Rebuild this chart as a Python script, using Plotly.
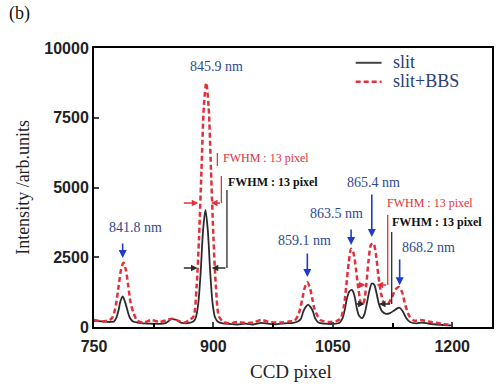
import plotly.graph_objects as go

# ---------------- data ----------------
slit_x = [750, 760, 770, 775, 778, 781, 783, 786, 789, 792, 795, 799, 805, 812, 820, 830, 840, 847, 853, 860, 870, 876,
          878, 881, 884, 887, 890, 893, 896, 899, 902, 906, 912, 920, 930, 940, 950, 960, 970, 980, 990, 1000, 1006,
          1010, 1013, 1016, 1019, 1022, 1025, 1028, 1032, 1040, 1050, 1058, 1062, 1065, 1068, 1071, 1074, 1077, 1080,
          1083, 1087, 1090, 1093, 1096, 1099, 1102, 1105, 1108, 1112, 1117, 1122, 1127, 1131, 1134, 1138, 1142, 1147,
          1155, 1162, 1170, 1180, 1190, 1200]
slit_y = [220, 200, 180, 200, 330, 620, 900, 1100, 900, 600, 330, 200, 160, 130, 120, 110, 140, 280, 260, 150, 150, 230,
          350, 850, 1960, 3460, 4200, 3460, 1960, 850, 350, 180, 130, 110, 90, 120, 90, 150, 110, 100, 130, 150, 200,
          300, 560, 720, 800, 720, 560, 300, 160, 120, 110, 140, 300, 620, 1050, 1280, 1330, 1150, 700, 400, 320, 480,
          880, 1300, 1560, 1520, 1200, 820, 560, 470, 500, 590, 670, 690, 560, 330, 180, 130, 160, 120, 90, 70, 60]

bbs_x = [750, 760, 768, 772, 775, 778, 781, 784, 787, 790, 793, 796, 800, 804, 812, 822, 832, 842, 848, 856, 864, 870,
         875, 879, 882, 885, 888, 891, 894, 897, 900, 903, 907, 912, 920, 930, 940, 950, 960, 970, 985, 995, 1002,
         1006, 1009, 1012, 1015, 1018, 1021, 1024, 1027, 1031, 1035, 1045, 1055, 1060, 1064, 1067, 1070, 1073, 1076,
         1079, 1082, 1086, 1089, 1092, 1095, 1098, 1101, 1104, 1107, 1111, 1115, 1119, 1124, 1129, 1133, 1137, 1141,
         1146, 1152, 1160, 1170, 1180, 1190, 1200]
bbs_y = [250, 200, 240, 300, 480, 870, 1480, 2050, 2300, 2050, 1480, 870, 480, 240, 150, 250, 180, 250, 300, 220, 160,
         250, 380, 1500, 3240, 5600, 7900, 8750, 7900, 5600, 3240, 1500, 380, 200, 130, 180, 140, 160, 250, 180, 160,
         200, 230, 390, 650, 1050, 1430, 1600, 1430, 1050, 650, 390, 240, 180, 220, 320, 750, 1500, 2300, 2800, 2650,
         2100, 1400, 800, 900, 1500, 2400, 2950, 3000, 2650, 1900, 1150, 820, 820, 1050, 1350, 1430, 1250, 800, 400,
         230, 250, 200, 150, 100, 80]

peak_labels = ["841.8 nm", "845.9 nm", "859.1 nm", "863.5 nm", "865.4 nm", "868.2 nm"]
peak_pos = [786, 890, 1018, 1073, 1099, 1134]
label_x = [802, 904, 1014, 1055, 1101, 1170]
label_y = [3580, 9355, 3118, 4086, 5197, 2832]
arrow_tail = [3050, None, 2690, 3550, 4800, 2470]
arrow_head = [2470, None, 1790, 2940, 3230, 1500]

x_ticks = [750, 900, 1050, 1200]
y_ticks = [0, 2500, 5000, 7500, 10000]
y_tick_text = ["0", "2500", "5000", "7500", "10000"]

series_names = ["slit", "slit+BBS"]

# ---------------- styles ----------------
SERIF = "Liberation Serif"
BLUE_TXT = "#2f4a8f"
BLUE_ARR = "#1f3cc8"
RED = "#e0313c"
BLK = "#2b2b2b"
LEG_TXT = "#2b3d78"
RED_DASH = "5px,3px"

fig = go.Figure()
fig.add_trace(go.Scatter(x=slit_x, y=slit_y, mode="lines", name=series_names[0],
                         line=dict(color=BLK, width=1.8, shape="spline", smoothing=0.8)))
fig.add_trace(go.Scatter(x=bbs_x, y=bbs_y, mode="lines", name=series_names[1],
                         line=dict(color=RED, width=2.5, dash=RED_DASH, shape="spline", smoothing=0.8)))

ann = []
# peak labels and blue arrows
for lab, px, lx, ly, t, h in zip(peak_labels, peak_pos, label_x, label_y, arrow_tail, arrow_head):
    ann.append(dict(x=lx, y=ly, text=lab, showarrow=False, xref="x", yref="y",
                    font=dict(family=SERIF, size=14, color=BLUE_TXT)))
    if t is not None:
        ann.append(dict(x=px, y=h, ax=px, ay=t, axref="x", ayref="y", xref="x", yref="y", text="",
                        showarrow=True, arrowhead=2, arrowsize=1, arrowwidth=1.6, arrowcolor=BLUE_ARR))

def arrow(x0, x1, y, color):
    return dict(x=x1, y=y, ax=x0, ay=y, axref="x", ayref="y", xref="x", yref="y", text="",
                showarrow=True, arrowhead=2, arrowsize=1, arrowwidth=1.3, arrowcolor=color)

# FWHM annotations, left group
ann.append(dict(x=910, y=6057, text="FWHM : 13 pixel", showarrow=False, xanchor="left",
                font=dict(family=SERIF, size=12, color=RED)))
ann.append(dict(x=916, y=5197, text="<b>FWHM : 13 pixel</b>", showarrow=False, xanchor="left",
                font=dict(family=SERIF, size=12, color="#111111")))
ann += [arrow(861, 881, 4444, RED), arrow(910, 897, 4444, RED),
        arrow(861, 880, 2115, BLK), arrow(917, 898, 2115, BLK)]
# FWHM annotations, right group
ann.append(dict(x=1116, y=4444, text="FWHM : 13 pixel", showarrow=False, xanchor="left",
                font=dict(family=SERIF, size=12, color=RED)))
ann.append(dict(x=1122, y=3763, text="<b>FWHM : 13 pixel</b>", showarrow=False, xanchor="left",
                font=dict(family=SERIF, size=12, color="#111111")))
ann += [arrow(1079, 1091, 1505, RED), arrow(1119, 1105, 1505, RED),
        arrow(1077, 1090, 824, BLK), arrow(1124, 1108, 824, BLK)]

# titles & panel letter
ann.append(dict(x=-0.18, y=0.5, xref="paper", yref="paper", text="Intensity /arb.units", textangle=-90,
                xanchor="center", yanchor="middle",
                showarrow=False, font=dict(family=SERIF, size=18, color="#222222")))
ann.append(dict(x=0.495, y=-0.158, xref="paper", yref="paper", text="CCD pixel",
                xanchor="center", yanchor="middle",
                showarrow=False, font=dict(family=SERIF, size=19, color="#222222")))
ann.append(dict(x=-0.218, y=1.125, xref="paper", yref="paper", text="(b)", xanchor="left", yanchor="middle",
                showarrow=False, font=dict(family=SERIF, size=18, color="#111111")))

# manual legend (paper coordinates)
ann.append(dict(x=0.745, y=0.950, xref="paper", yref="paper", text=series_names[0], xanchor="left",
                yanchor="middle", showarrow=False, font=dict(family=SERIF, size=18, color=LEG_TXT)))
ann.append(dict(x=0.745, y=0.882, xref="paper", yref="paper", text=series_names[1], xanchor="left",
                yanchor="middle", showarrow=False, font=dict(family=SERIF, size=18, color=LEG_TXT)))

shapes = [
    dict(type="line", x0=905, x1=905, y0=5771, y1=6237, line=dict(color=RED, width=1.3)),
    dict(type="line", x0=910, x1=910, y0=4444, y1=5412, line=dict(color=RED, width=1.3)),
    dict(type="line", x0=917, x1=917, y0=2115, y1=4910, line=dict(color=BLK, width=1.3)),
    dict(type="line", x0=1119, x1=1119, y0=1505, y1=4014, line=dict(color=RED, width=1.3)),
    dict(type="line", x0=1124, x1=1124, y0=824, y1=3405, line=dict(color=BLK, width=1.3)),
    dict(type="line", xref="paper", yref="paper", x0=0.6575, x1=0.7225, y0=0.947, y1=0.947,
         line=dict(color="#444444", width=2)),
    dict(type="line", xref="paper", yref="paper", x0=0.6575, x1=0.7225, y0=0.879, y1=0.879,
         line=dict(color=RED, width=2.5, dash=RED_DASH)),
]

fig.update_layout(
    width=503, height=387,
    margin=dict(l=94, r=9, t=48, b=60),
    plot_bgcolor="white", paper_bgcolor="white",
    annotations=ann, shapes=shapes,
    showlegend=False,
)
fig.update_xaxes(range=[750, 1250], tickvals=x_ticks, ticks="inside", ticklen=5, tickwidth=2,
                 showline=True, linewidth=2, linecolor="black", mirror=True, showgrid=False, zeroline=False,
                 ticklabelstandoff=4,
                 tickfont=dict(family="Liberation Sans", size=16, color="#222222", weight="bold"),
                 minor=dict(tickvals=[825, 975, 1125], ticks="inside", ticklen=4, tickwidth=1.5, tickcolor="black"))
fig.update_yaxes(range=[0, 10000], tickvals=y_ticks, ticktext=y_tick_text, ticks="inside", ticklen=5, tickwidth=2,
                 showline=True, linewidth=2, linecolor="black", mirror=True, showgrid=False, zeroline=False,
                 tickfont=dict(family="Liberation Sans", size=16, color="#222222", weight="bold"))

fig.write_html("out.html")
